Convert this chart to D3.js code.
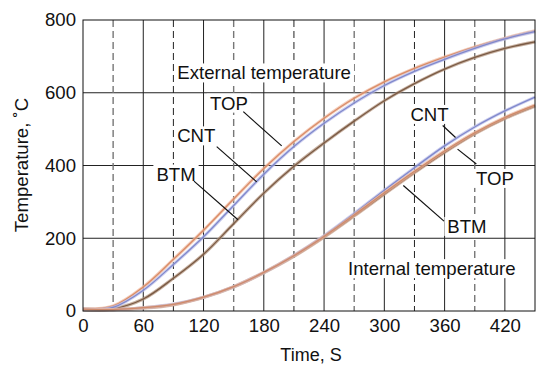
<!DOCTYPE html>
<html>
<head>
<meta charset="utf-8">
<script src="https://cdn.jsdelivr.net/npm/d3@7"></script>
<style>
  body { margin: 0; background: #fff; }
  text { font-family: "Liberation Sans", Arial, sans-serif; fill: #111; }
</style>
</head>
<body>
<div id="chart"></div>
<script>
// Data
const time = [0, 30, 60, 90, 120, 150, 180, 210, 240, 270, 300, 330, 360, 390, 420, 450];
const extTop = [6, 14, 66, 142, 222, 308, 392, 466, 530, 585, 630, 667, 698, 726, 750, 770];
const extCnt = [4, 10, 57, 128, 204, 290, 376, 452, 516, 572, 620, 659, 692, 722, 748, 768];
const extBtm = [3, 6, 33, 90, 156, 240, 324, 398, 462, 522, 578, 625, 665, 697, 722, 740];
const intTop = [5, 4, 9, 18, 38, 67, 106, 152, 205, 264, 325, 384, 440, 490, 532, 566];
const intCnt = [5, 4, 9, 19, 38, 67, 106, 153, 207, 268, 332, 394, 454, 506, 550, 588];
const intBtm = [5, 4, 8, 17, 37, 66, 105, 150, 203, 261, 321, 380, 436, 487, 529, 563];

const xTicks = [0, 60, 120, 180, 240, 300, 360, 420];
const yTicks = [0, 200, 400, 600, 800];
const dashTicks = [30, 90, 150, 210, 270, 330, 390];

// labels: [text, t, value, anchor] (value = vertical centre of the text)
const labels = [
    ["External temperature", 93.9, 655, "start"],
    ["TOP", 145.2, 572, "middle"],
    ["CNT", 112.8, 482, "middle"],
    ["BTM", 92.6, 377, "middle"],
    ["CNT", 345, 541, "middle"],
    ["TOP", 410.2, 365, "middle"],
    ["BTM", 382.3, 233, "middle"],
    ["Internal temperature", 347.3, 117, "middle"]
];
const leaders = [
    [[159.6, 548], [197.8, 454]],
    [[133.1, 452], [172.9, 355]],
    [[110.5, 357], [154.3, 251]],
    [[358.1, 510], [370.9, 477]],
    [[372.9, 445], [391.6, 404]],
    [[318.9, 345], [359.4, 247]]
];

const W = 536, H = 365;
const margin = { top: 20, right: 1, bottom: 54, left: 83 };
const width = W - margin.left - margin.right;
const height = H - margin.top - margin.bottom;

const svg = d3.select("#chart").append("svg")
    .attr("width", W).attr("height", H);
const g = svg.append("g").attr("transform", `translate(${margin.left},${margin.top})`);

const x = d3.scaleLinear().domain([0, 450]).range([0, width]);
const y = d3.scaleLinear().domain([0, 800]).range([height, 0]);

// Grid
g.selectAll(".vgrid").data(xTicks.filter(d => d > 0)).join("line")
    .attr("x1", d => x(d)).attr("x2", d => x(d)).attr("y1", 0).attr("y2", height)
    .attr("stroke", "#222").attr("stroke-width", 1);
g.selectAll(".hgrid").data(yTicks.filter(d => d > 0 && d < 800)).join("line")
    .attr("x1", 0).attr("x2", width).attr("y1", d => y(d)).attr("y2", d => y(d))
    .attr("stroke", "#222").attr("stroke-width", 1);
g.selectAll(".dgrid").data(dashTicks).join("line")
    .attr("x1", d => x(d)).attr("x2", d => x(d)).attr("y1", 0).attr("y2", height)
    .attr("stroke", (d, i) => i % 2 ? "#222" : "#777")
    .attr("stroke-width", (d, i) => i % 2 ? 1 : 1.4)
    .attr("stroke-dasharray", "7,4");

// Label boxes + text
const labelG = g.append("g");
labels.forEach(([txt, t, v, anchor]) => {
    const box = labelG.append("rect").attr("fill", "#fff");
    const el = labelG.append("text")
        .attr("x", x(t)).attr("y", y(v)).attr("dy", "0.36em")
        .attr("text-anchor", anchor)
        .style("font-size", "18.6px")
        .text(txt);
    const bb = el.node().getBBox();
    box.attr("x", bb.x - 3).attr("y", bb.y + 1).attr("width", bb.width + 6).attr("height", bb.height - 2);
});

// Curves
const line = d3.line().x((d, i) => x(time[i])).y(d => y(d)).curve(d3.curveCatmullRom.alpha(0.5));
const series = [
    [extBtm, "#b0917a", "#7a5a44"],
    [extTop, "#f0b89c", "#d98c68"],
    [extCnt, "#b8bce8", "#8088cc"],
    [intBtm, "#c4a08a", "#8a6048"],
    [intCnt, "#b8bce8", "#8088cc"],
    [intTop, "#eab49a", "#cf8a6a"]
];
series.forEach(([vals, halo, core]) => {
    g.append("path").datum(vals).attr("d", line)
        .attr("fill", "none").attr("stroke", halo).attr("stroke-width", 3.2).attr("opacity", 0.7);
    g.append("path").datum(vals).attr("d", line)
        .attr("fill", "none").attr("stroke", core).attr("stroke-width", 1.3);
});

// Leader lines
g.selectAll(".leader").data(leaders).join("line")
    .attr("x1", d => x(d[0][0])).attr("y1", d => y(d[0][1]))
    .attr("x2", d => x(d[1][0])).attr("y2", d => y(d[1][1]))
    .attr("stroke", "#111").attr("stroke-width", 1.2);

// Frame
g.append("rect").attr("x", 0).attr("y", 0).attr("width", width).attr("height", height)
    .attr("fill", "none").attr("stroke", "#111").attr("stroke-width", 1);

// Axes (labels only)
const xAxis = g.append("g").attr("transform", `translate(0,${height})`)
    .call(d3.axisBottom(x).tickValues(xTicks).tickSize(0).tickPadding(8));
const yAxis = g.append("g")
    .call(d3.axisLeft(y).tickValues(yTicks).tickSize(0).tickPadding(7));
[xAxis, yAxis].forEach(a => {
    a.select(".domain").remove();
    a.selectAll("text").style("font-size", "18.6px").style("font-family", "Liberation Sans, Arial, sans-serif").attr("fill", "#111");
});

// Titles
svg.append("text").attr("x", 311).attr("y", 361).attr("text-anchor", "middle")
    .style("font-size", "18px").text("Time, S");
svg.append("text").attr("transform", "translate(28,165) rotate(-90)").attr("text-anchor", "middle")
    .style("font-size", "18.6px").text("Temperature, ˚C");
</script>
</body>
</html>
